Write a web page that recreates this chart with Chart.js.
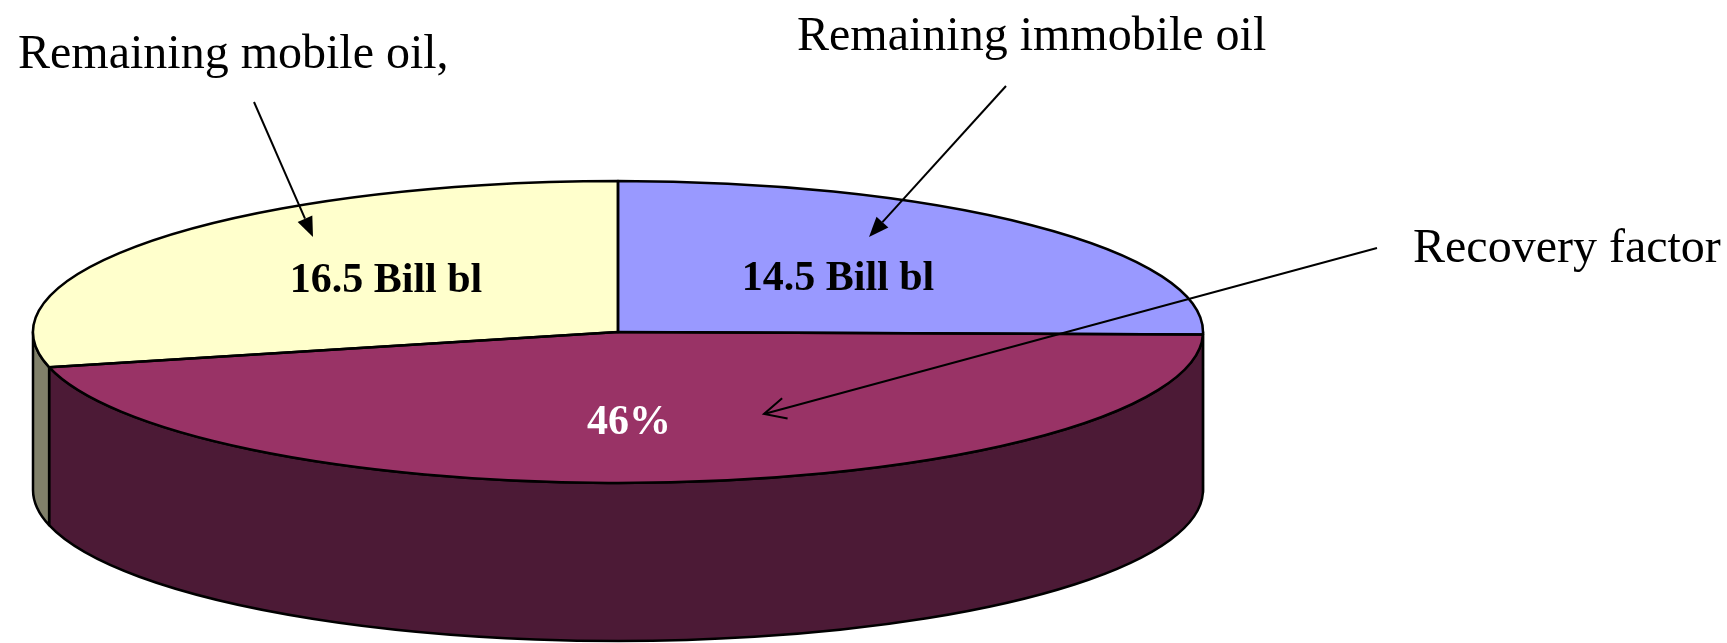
<!DOCTYPE html>
<html><head><meta charset="utf-8">
<script src="https://cdn.jsdelivr.net/npm/chart.js@4/dist/chart.umd.min.js"></script>
<style>html,body{margin:0;padding:0;background:#fff;overflow:hidden}#wrap{width:1727px;height:643px}</style>
</head><body><div id="wrap"><canvas id="c" width="1727" height="643"></canvas></div>
<script>
// ---- data ----
const categories = ['Remaining immobile oil', 'Recovery factor', 'Remaining mobile oil,'];
const volumesBillBbl = [14.5, 26.4, 16.5];
const sliceTexts = ['14.5 Bill bl', '46%', '16.5 Bill bl'];
const topColors = ['#9999FF', '#993366', '#FFFFCC'];
const sideColors = ['#4D4D80', '#4C1A36', '#81816A'];
const sliceTextColors = ['#000000', '#FFFFFF', '#000000'];

// ---- layout (not data) ----
const GEOM = { cx: 618, cy: 332, rx: 585, ry: 151, depth: 158 };
const SLICE_TEXT_POS = [[838, 290], [629, 434], [386, 292]];
const CALLOUTS = [
  { idx: 0, x: 797, y: 50, from: [1006, 86], to: [869, 237], head: 'filled' },
  { idx: 1, x: 1413, y: 262, from: [1377, 248], to: [764, 414], head: 'open' },
  { idx: 2, x: 18, y: 68, from: [254, 102], to: [313, 237], head: 'filled' }
];
const SERIF = '"Liberation Serif", "Times New Roman", serif';

const pie3d = {
  id: 'pie3d',
  beforeDatasetsDraw(chart) {
    const ctx = chart.ctx;
    const arcs = chart.getDatasetMeta(0).data;
    const { cx, cy, rx, ry, depth } = GEOM;
    ctx.save();
    arcs.forEach((arc, i) => {
      const lo = Math.max(arc.startAngle, 0), hi = Math.min(arc.endAngle, Math.PI);
      if (hi <= lo) return;
      ctx.beginPath();
      ctx.ellipse(cx, cy, rx, ry, 0, lo, hi, false);
      ctx.lineTo(cx + rx * Math.cos(hi), cy + ry * Math.sin(hi) + depth);
      ctx.ellipse(cx, cy + depth, rx, ry, 0, hi, lo, true);
      ctx.closePath();
      ctx.fillStyle = sideColors[i];
      ctx.fill();
      ctx.lineWidth = 2.5;
      ctx.lineJoin = 'round';
      ctx.strokeStyle = '#000';
      ctx.stroke();
    });
    ctx.restore();
    const a0 = arcs[0];
    ctx.save();
    ctx.translate(cx, cy);
    ctx.scale(rx / a0.outerRadius, ry / a0.outerRadius);
    ctx.translate(-a0.x, -a0.y);
  },
  afterDatasetsDraw(chart) {
    const ctx = chart.ctx;
    ctx.restore();
    const arcs = chart.getDatasetMeta(0).data;
    const { cx, cy, rx, ry } = GEOM;
    ctx.save();
    ctx.lineWidth = 2.5;
    ctx.lineJoin = 'round';
    ctx.strokeStyle = '#000';
    arcs.forEach(arc => {
      ctx.beginPath();
      ctx.moveTo(cx, cy);
      ctx.ellipse(cx, cy, rx, ry, 0, arc.startAngle, arc.endAngle, false);
      ctx.closePath();
      ctx.stroke();
    });
    ctx.restore();
  },
  afterDraw(chart) {
    const ctx = chart.ctx;
    ctx.save();
    ctx.font = 'bold 42px ' + SERIF;
    ctx.textAlign = 'center';
    ctx.textBaseline = 'alphabetic';
    sliceTexts.forEach((t, i) => {
      ctx.fillStyle = sliceTextColors[i];
      ctx.fillText(t, SLICE_TEXT_POS[i][0], SLICE_TEXT_POS[i][1]);
    });
    ctx.font = '48px ' + SERIF;
    ctx.textAlign = 'left';
    ctx.fillStyle = '#000';
    ctx.strokeStyle = '#000';
    ctx.lineWidth = 2;
    CALLOUTS.forEach(c => {
      ctx.fillText(categories[c.idx], c.x, c.y);
      const [x1, y1] = c.from, [x2, y2] = c.to;
      const ang = Math.atan2(y2 - y1, x2 - x1);
      if (c.head === 'filled') {
        const L = 20, W = 8;
        const bx = x2 - L * Math.cos(ang), by = y2 - L * Math.sin(ang);
        ctx.beginPath(); ctx.moveTo(x1, y1); ctx.lineTo(bx, by); ctx.stroke();
        ctx.beginPath();
        ctx.moveTo(x2, y2);
        ctx.lineTo(bx + W * Math.sin(ang), by - W * Math.cos(ang));
        ctx.lineTo(bx - W * Math.sin(ang), by + W * Math.cos(ang));
        ctx.closePath(); ctx.fill();
      } else {
        const L = 24, A = 0.45;
        ctx.beginPath(); ctx.moveTo(x1, y1); ctx.lineTo(x2, y2); ctx.stroke();
        ctx.beginPath();
        ctx.moveTo(x2 - L * Math.cos(ang - A), y2 - L * Math.sin(ang - A));
        ctx.lineTo(x2, y2);
        ctx.lineTo(x2 - L * Math.cos(ang + A), y2 - L * Math.sin(ang + A));
        ctx.stroke();
      }
    });
    ctx.restore();
  }
};

new Chart(document.getElementById('c'), {
  type: 'pie',
  data: {
    labels: categories,
    datasets: [{
      data: volumesBillBbl,
      backgroundColor: topColors,
      borderWidth: 0,
      clip: false
    }]
  },
  options: {
    responsive: false,
    animation: false,
    events: [],
    rotation: 0,
    layout: { padding: 0 },
    plugins: { legend: { display: false }, tooltip: { enabled: false } }
  },
  plugins: [pie3d]
});
</script>
</body></html>
